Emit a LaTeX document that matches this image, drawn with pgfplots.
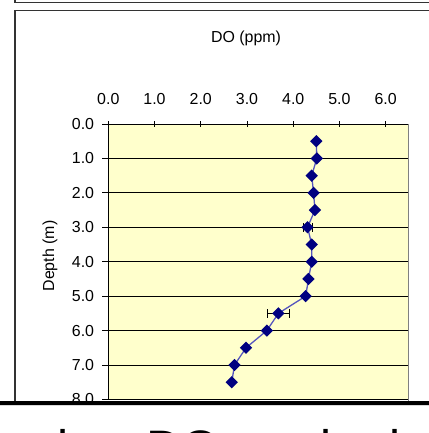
\documentclass[border=0pt]{standalone}
\usepackage{fontspec}
\setmainfont{Liberation Sans}
\usepackage{pgfplots}
\pgfplotsset{compat=1.18}
\usepackage{pgfplotstable}
\definecolor{plotbg}{RGB}{255,255,204}
\definecolor{navyblue}{RGB}{0,0,128}
\definecolor{linecol}{RGB}{85,85,190}
\pgfplotstableread{
do   depth ex
4.50 0.5  0
4.51 1.0  0
4.40 1.5  0
4.44 2.0  0
4.47 2.5  0
4.31 3.0  0.10
4.40 3.5  0
4.40 4.0  0
4.33 4.5  0
4.27 5.0  0
3.68 5.5  0.23
3.43 6.0  0
2.98 6.5  0
2.73 7.0  0
2.67 7.5  0
}\dotable
\begin{document}
\begin{tikzpicture}
\path[use as bounding box] (0,0) rectangle (429bp,-433bp);
\clip (0,0) rectangle (429bp,-433bp);
\fill[white] (0,0) rectangle (429bp,-433bp);
\begin{scope}
\clip (0,0) rectangle (429bp,-400.5bp);
\draw[line width=1.4bp, black!80] (15bp,0) -- (15bp,-2.7bp) -- (440bp,-2.7bp);
\draw[line width=1.4bp, black!80] (15bp,-500bp) -- (15bp,-10.7bp) -- (440bp,-10.7bp);
\node[font=\fontsize{16}{19}\selectfont, inner sep=0pt] at (246bp,-38bp) {DO (ppm)};
\node[font=\fontsize{16}{19}\selectfont, inner sep=0pt, rotate=90] at (50bp,-256bp) {Depth (m)};
\begin{axis}[
  at={(108.3bp,-124bp)}, anchor=north west,
  scale only axis, width=300.5bp, height=275.4bp,
  xmin=0, xmax=6.5, ymin=0, ymax=8, y dir=reverse,
  axis x line*=top, axis y line*=left,
  axis line style={-, black, line width=0.9bp},
  axis background/.style={fill=plotbg},
  xtick={0,1,2,3,4,5,6}, ytick={0,1,2,3,4,5,6,7,8},
  xtick align=center, ytick align=outside,
  major tick length=6bp,
  tick style={black, line width=0.9bp},
  ymajorgrids, major grid style={black, line width=0.8bp},
  tick label style={font=\fontsize{16}{19}\selectfont},
  /pgf/number format/.cd, fixed, fixed zerofill, precision=1, assume math mode=true,
  /pgfplots/.cd,
  xticklabel style={anchor=base, yshift=17bp},
  yticklabel style={anchor=east, inner sep=0pt, xshift=-8bp},
  clip=false,
]
\draw[black!50, line width=1bp] (axis cs:6.5,0) -- (axis cs:6.5,8.2);
\addplot[color=linecol, line width=1.3bp, mark=square*,
  mark options={rotate=45, mark size=3.7bp, fill=navyblue, draw=navyblue, solid},
  error bars/.cd, x dir=both, x explicit, error mark=|,
  error bar style={black, line width=0.8bp},
  error mark options={black, mark size=4.5bp, line width=0.8bp}]
  table[x=do, y=depth, x error=ex] {\dotable};
\end{axis}
\end{scope}
\fill[black] (0,-400.5bp) rectangle (429bp,-405.3bp);
\draw[black!15, line width=0.8bp] (0,-405.8bp) -- (429bp,-405.8bp);
\node[anchor=base west, inner sep=0pt, font=\fontsize{50}{60}\selectfont] at (57.3bp,-465.5bp) {low DO are in rivers};
\end{tikzpicture}
\end{document}
